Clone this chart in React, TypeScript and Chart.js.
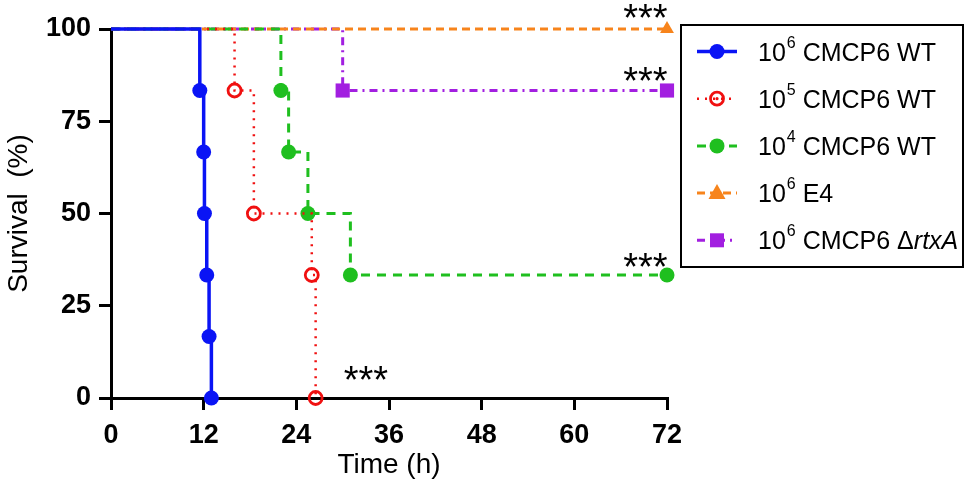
import React, { useEffect, useRef } from "react";
import { Chart, registerables } from "chart.js";

Chart.register(...registerables);

// survival values for a group of six animals
const blueTime = [0, 11.5, 12, 12.1, 12.4, 12.7, 13];
const blueSurv = [100, 83.33, 66.67, 50, 33.33, 16.67, 0];
const redTime = [0, 16, 18.5, 26, 26.5];
const redSurv = [100, 83.33, 50, 33.33, 0];
const greenTime = [0, 22, 23, 25.5, 31, 72];
const greenSurv = [100, 83.33, 66.67, 50, 33.33, 33.33];
const orangeTime = [0, 72];
const orangeSurv = [100, 100];
const purpleTime = [0, 30, 72];
const purpleSurv = [100, 83.33, 83.33];

const xTicks = [0, 12, 24, 36, 48, 60, 72];
const yTicks = [0, 25, 50, 75, 100];

// significance marks: [time, survival] (text baseline)
const starMarks: [number, number][] = [
  [69.2, 99.5],
  [69.2, 82.4],
  [69.2, 32],
  [33, 1.3],
];

const FONT = "'Liberation Sans', Arial, sans-serif";

type LegendItem = {
  color: string;
  dash: number[];
  width: number;
  style: string;
  filled: boolean;
  exp: string;
  text: string;
  italic?: string;
};

const legendItems: LegendItem[] = [
  { color: "#0a14f5", dash: [], width: 3.5, style: "circle", filled: true, exp: "6", text: " CMCP6 WT" },
  { color: "#f01010", dash: [2, 6], width: 2.5, style: "circle", filled: false, exp: "5", text: " CMCP6 WT" },
  { color: "#1fbf1f", dash: [9, 7], width: 3, style: "circle", filled: true, exp: "4", text: " CMCP6 WT" },
  { color: "#f7841c", dash: [8, 5], width: 3, style: "triangle", filled: true, exp: "6", text: " E4" },
  { color: "#a21fe0", dash: [8, 5, 2, 5], width: 3, style: "rect", filled: true, exp: "6", text: " CMCP6 Δ", italic: "rtxA" },
];

const zip = (t: number[], s: number[]) => t.map((x, i) => ({ x, y: s[i] }));

function drawMarker(ctx: CanvasRenderingContext2D, it: LegendItem, x: number, y: number) {
  ctx.save();
  ctx.setLineDash([]);
  ctx.fillStyle = it.color;
  ctx.strokeStyle = it.color;
  ctx.beginPath();
  if (it.style === "circle") {
    if (it.filled) {
      ctx.arc(x, y, 7.5, 0, Math.PI * 2);
      ctx.fill();
    } else {
      ctx.lineWidth = 2.8;
      ctx.arc(x, y, 6.5, 0, Math.PI * 2);
      ctx.stroke();
      ctx.beginPath();
      ctx.arc(x, y, 1.6, 0, Math.PI * 2);
      ctx.fill();
    }
  } else if (it.style === "triangle") {
    ctx.moveTo(x, y - 9);
    ctx.lineTo(x + 8.5, y + 6);
    ctx.lineTo(x - 8.5, y + 6);
    ctx.closePath();
    ctx.fill();
  } else {
    ctx.rect(x - 7, y - 7, 14, 14);
    ctx.fill();
  }
  ctx.restore();
}

const extrasPlugin = {
  id: "extras",
  afterDatasetsDraw(chart: Chart) {
    const { ctx } = chart;
    const xs = chart.scales.x;
    const ys = chart.scales.y;
    ctx.save();
    ctx.fillStyle = "#000";
    ctx.font = `38px ${FONT}`;
    ctx.textAlign = "center";
    ctx.textBaseline = "alphabetic";
    starMarks.forEach(([t, s]) => {
      ctx.fillText("***", xs.getPixelForValue(t), ys.getPixelForValue(s));
    });

    // legend box
    ctx.lineWidth = 2;
    ctx.strokeStyle = "#000";
    ctx.strokeRect(681, 25, 282, 242);
    legendItems.forEach((it, i) => {
      const y = 51.5 + i * 47.2;
      ctx.save();
      ctx.strokeStyle = it.color;
      ctx.lineWidth = it.width;
      ctx.setLineDash(it.dash);
      ctx.beginPath();
      ctx.moveTo(697, y);
      ctx.lineTo(737, y);
      ctx.stroke();
      ctx.restore();
      drawMarker(ctx, it, 717, y);

      ctx.fillStyle = "#000";
      ctx.textAlign = "left";
      ctx.textBaseline = "alphabetic";
      let x = 758;
      ctx.font = `25px ${FONT}`;
      ctx.fillText("10", x, y + 9);
      x += ctx.measureText("10").width + 1;
      ctx.font = `16px ${FONT}`;
      ctx.fillText(it.exp, x, y - 4);
      x += ctx.measureText(it.exp).width;
      ctx.font = `25px ${FONT}`;
      ctx.fillText(it.text, x, y + 9);
      x += ctx.measureText(it.text).width;
      if (it.italic) {
        ctx.font = `italic 25px ${FONT}`;
        ctx.fillText(it.italic, x, y + 9);
      }
    });
    ctx.restore();
  },
};

export default function App() {
  const canvasRef = useRef<HTMLCanvasElement | null>(null);

  useEffect(() => {
    if (!canvasRef.current) return;
    const series = [
      { data: zip(blueTime, blueSurv), item: legendItems[0], r: 7.5 },
      { data: zip(redTime, redSurv), item: legendItems[1], r: 6.5 },
      { data: zip(greenTime, greenSurv), item: legendItems[2], r: 7.5 },
      { data: zip(orangeTime, orangeSurv), item: legendItems[3], r: 8 },
      { data: zip(purpleTime, purpleSurv), item: legendItems[4], r: 10 },
    ];
    const chart = new Chart(canvasRef.current, {
      type: "line",
      data: {
        datasets: series.map((s) => ({
          data: s.data,
          stepped: true,
          borderColor: s.item.color,
          borderWidth: s.item.width,
          borderDash: s.item.dash,
          pointStyle: s.item.style,
          pointRadius: (c: any) => (c.dataIndex === 0 ? 0 : s.r),
          pointBackgroundColor: s.item.filled ? s.item.color : "rgba(0,0,0,0)",
          pointBorderColor: s.item.color,
          pointBorderWidth: s.item.filled ? 0 : 2.8,
          clip: false as any,
        })),
      },
      options: {
        animation: false,
        responsive: false,
        layout: { padding: { left: 0, right: 304, top: 29, bottom: 0 } },
        plugins: { legend: { display: false }, tooltip: { enabled: false } },
        scales: {
          x: {
            type: "linear",
            min: 0,
            max: 72,
            afterFit: (s: any) => {
              s.height = 101;
            },
            afterBuildTicks: (s: any) => {
              s.ticks = xTicks.map((v) => ({ value: v }));
            },
            border: { display: true, color: "#000", width: 3 },
            grid: { drawOnChartArea: false, drawTicks: true, tickLength: 12, color: "#000", lineWidth: 3 },
            ticks: { color: "#000", padding: 9, maxRotation: 0, font: { family: FONT, size: 27, weight: "bold" } },
            title: {
              display: true,
              text: "Time (h)",
              color: "#000",
              font: { family: FONT, size: 28 },
              padding: { top: 0, bottom: 17 },
            },
          },
          y: {
            type: "linear",
            min: 0,
            max: 100,
            afterFit: (s: any) => {
              s.width = 111;
            },
            afterBuildTicks: (s: any) => {
              s.ticks = yTicks.map((v) => ({ value: v }));
            },
            border: { display: true, color: "#000", width: 3 },
            grid: { drawOnChartArea: false, drawTicks: true, tickLength: 12, color: "#000", lineWidth: 3 },
            ticks: { color: "#000", padding: 8, font: { family: FONT, size: 27, weight: "bold" } },
            title: {
              display: true,
              text: "Survival  (%)",
              color: "#000",
              font: { family: FONT, size: 28 },
              padding: { top: 2, bottom: 0 },
            },
          },
        },
      },
      plugins: [extrasPlugin],
    });
    return () => chart.destroy();
  }, []);

  return (
    <div style={{ position: "absolute", left: 0, top: 0, width: 971, height: 499, background: "#fff" }}>
      <canvas ref={canvasRef} width={971} height={499} style={{ width: 971, height: 499 }} />
    </div>
  );
}
